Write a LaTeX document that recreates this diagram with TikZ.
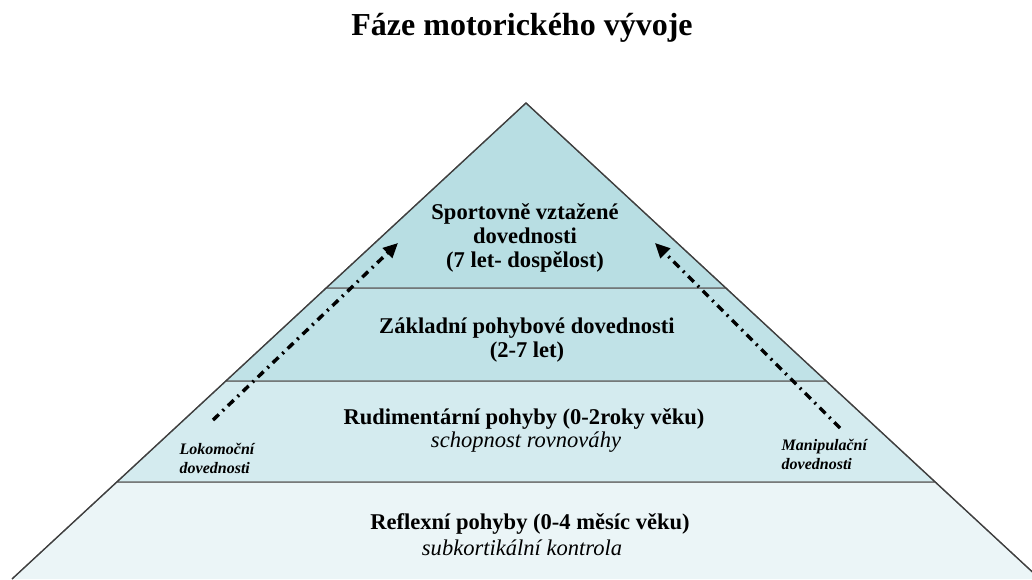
\documentclass[tikz,border=0pt]{standalone}
\usepackage{fontspec}
\setmainfont{Liberation Serif}
\usetikzlibrary{arrows.meta}
\definecolor{topfill}{HTML}{B8DEE3}
\definecolor{secfill}{HTML}{C0E2E7}
\definecolor{thirdfill}{HTML}{D4EBEF}
\definecolor{basefill}{HTML}{EBF5F7}
\tikzset{
  stagetext/.style={align=center, font=\bfseries\fontsize{16.9}{18}\selectfont},
  subtext/.style={font=\itshape\fontsize{16.9}{18}\selectfont},
  sidetext/.style={align=left, font=\bfseries\itshape\fontsize{12}{14.3}\selectfont},
  skill/.style={line width=2.6pt, dash pattern=on 6pt off 4pt on 1.5pt off 4pt, -{Triangle[length=11pt,width=10pt]}}
}
\begin{document}
\begin{tikzpicture}[x=0.75pt,y=-0.75pt]
  \useasboundingbox (0,0) rectangle (1032,579);
  \clip (0,0) rectangle (1032,579);
  % layers of the pyramid
  \coordinate (apex) at (526,103);
  \coordinate (l1) at (326,288); \coordinate (r1) at (726,288);
  \coordinate (l2) at (226,381); \coordinate (r2) at (826,381);
  \coordinate (l3) at (117,482); \coordinate (r3) at (935,482);
  \coordinate (l4) at (12,579);  \coordinate (r4) at (1040,579);
  \filldraw [fill=basefill, draw=black!60, line width=0.8pt] (l4) -- (l3) -- (r3) -- (r4);
  \filldraw [fill=thirdfill, draw=black!60, line width=0.8pt] (l3) -- (l2) -- (r2) -- (r3) -- cycle;
  \filldraw [fill=secfill, draw=black!60, line width=0.8pt] (l2) -- (l1) -- (r1) -- (r2) -- cycle;
  \filldraw [fill=topfill, draw=black!60, line width=0.8pt] (l1) -- (apex) -- (r1) -- cycle;
  \draw [black!75, line width=1pt] (l4) -- (apex) -- (r4);
  % texts
  \node [font=\bfseries\fontsize{24}{28}\selectfont] (title) at (522,28) {Fáze motorického vývoje};
  \node [stagetext] (sport) at (525,238) {Sportovně vztažené\\dovednosti\\(7 let- dospělost)};
  \node [stagetext] (basic) at (527,340) {Základní pohybové dovednosti\\(2-7 let)};
  \node [stagetext] (rudi) at (524,419) {Rudimentární pohyby (0-2roky věku)};
  \node [subtext] (rudisub) at (526,442) {schopnost rovnováhy};
  \node [stagetext] (reflex) at (530,524) {Reflexní pohyby (0-4 měsíc věku)};
  \node [subtext] (reflexsub) at (522,548) {subkortikální kontrola};
  \node [sidetext, anchor=west] (loko) at (175,458) {Lokomoční\\dovednosti};
  \node [sidetext, anchor=west] (mani) at (777,454) {Manipulační\\dovednosti};
  % skill arrows
  \coordinate (lokostart) at (213,420); \coordinate (lokoend) at (398,243);
  \coordinate (manistart) at (840,428); \coordinate (maniend) at (655,243);
  \draw [skill] (lokostart) -- (lokoend);
  \draw [skill] (manistart) -- (maniend);
\end{tikzpicture}
\end{document}
